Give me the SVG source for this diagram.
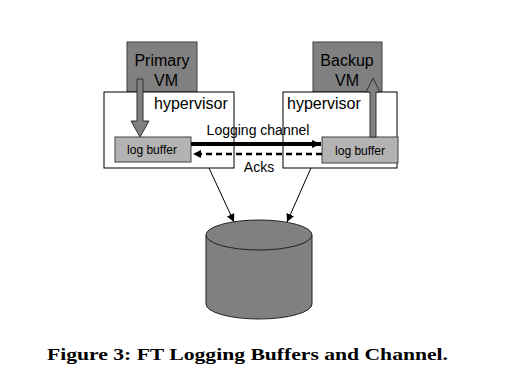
<svg xmlns="http://www.w3.org/2000/svg" width="513" height="385" viewBox="0 0 513 385">
<style>
.vm{fill:#808080;stroke:#404040;stroke-width:1}
.hv{fill:#ffffff;stroke:#000;stroke-width:1}
.lb{fill:#b3b3b3;stroke:#404040;stroke-width:1}
.t{font-family:"Liberation Sans",Arial,sans-serif;fill:#000}
.big{font-size:16px}
.mid{font-size:16px}
.lbl{font-size:14px}
.sm{font-size:12px}
.gar{fill:#808080;stroke:#303030;stroke-width:1}
</style>
<defs>
<marker id="ah" markerWidth="10" markerHeight="10" refX="9" refY="5" orient="auto" markerUnits="userSpaceOnUse">
<path d="M0,1 L9,5 L0,9 Z" fill="#000"/>
</marker>
<marker id="ah2" markerWidth="10" markerHeight="10" refX="8" refY="4" orient="auto" markerUnits="userSpaceOnUse">
<path d="M0,0 L8,4 L0,8 Z" fill="#000"/>
</marker>
</defs>
<rect width="513" height="385" fill="#fff"/>
<g id="primary-vm">
<rect class="vm" x="127" y="42" width="70" height="50"/>
<text class="t big" x="162" y="66" text-anchor="middle">Primary</text>
<text class="t big" x="166" y="86" text-anchor="middle">VM</text>
</g>
<g id="backup-vm">
<rect class="vm" x="313" y="42" width="69" height="50"/>
<text class="t big" x="347" y="66" text-anchor="middle">Backup</text>
<text class="t big" x="347" y="86" text-anchor="middle">VM</text>
</g>
<g id="hypervisor-left">
<rect class="hv" x="104" y="92" width="130" height="76"/>
<text class="t mid" x="154" y="109">hypervisor</text>
</g>
<g id="hypervisor-right">
<rect class="hv" x="283" y="92" width="114" height="76"/>
<text class="t mid" x="287" y="109">hypervisor</text>
</g>
<g id="log-buffer-left">
<rect class="lb" x="115" y="137" width="76" height="25"/>
<text class="t sm" x="152" y="154" text-anchor="middle">log buffer</text>
</g>
<g id="log-buffer-right">
<rect class="lb" x="322" y="137" width="76" height="26"/>
<text class="t sm" x="360" y="155" text-anchor="middle">log buffer</text>
</g>
<g id="disk">
<path d="M206,235 L206,304 A53,15 0 0 0 312,304 L312,235" fill="#808080" stroke="#202020" stroke-width="1"/>
<ellipse cx="259" cy="235" rx="53" ry="15" fill="#808080" stroke="#202020" stroke-width="1"/>
</g>
<g id="connectors">
<path class="gar" d="M137,79 L143,79 L143,121 L149,121 L140,137 L131,121 L137,121 Z"/>
<path class="gar" d="M370,137 L376,137 L376,92 L380,92 L373,78 L366,92 L370,92 Z"/>
<line x1="191" y1="144" x2="321" y2="144" stroke="#000" stroke-width="4" marker-end="url(#ah)"/>
<line x1="322" y1="154" x2="193" y2="154" stroke="#000" stroke-width="2.5" stroke-dasharray="6,4" marker-end="url(#ah2)"/>
<line x1="209" y1="168" x2="234" y2="222" stroke="#000" stroke-width="1" marker-end="url(#ah2)"/>
<line x1="311" y1="168" x2="287" y2="222" stroke="#000" stroke-width="1" marker-end="url(#ah2)"/>
<text class="t lbl" x="258" y="135" text-anchor="middle">Logging channel</text>
<text class="t lbl" x="259" y="172" text-anchor="middle">Acks</text>
</g>
<text x="47" y="360" font-family="Liberation Serif,serif" font-weight="bold" font-size="16" textLength="401" lengthAdjust="spacingAndGlyphs">Figure 3: FT Logging Buffers and Channel.</text>
</svg>
